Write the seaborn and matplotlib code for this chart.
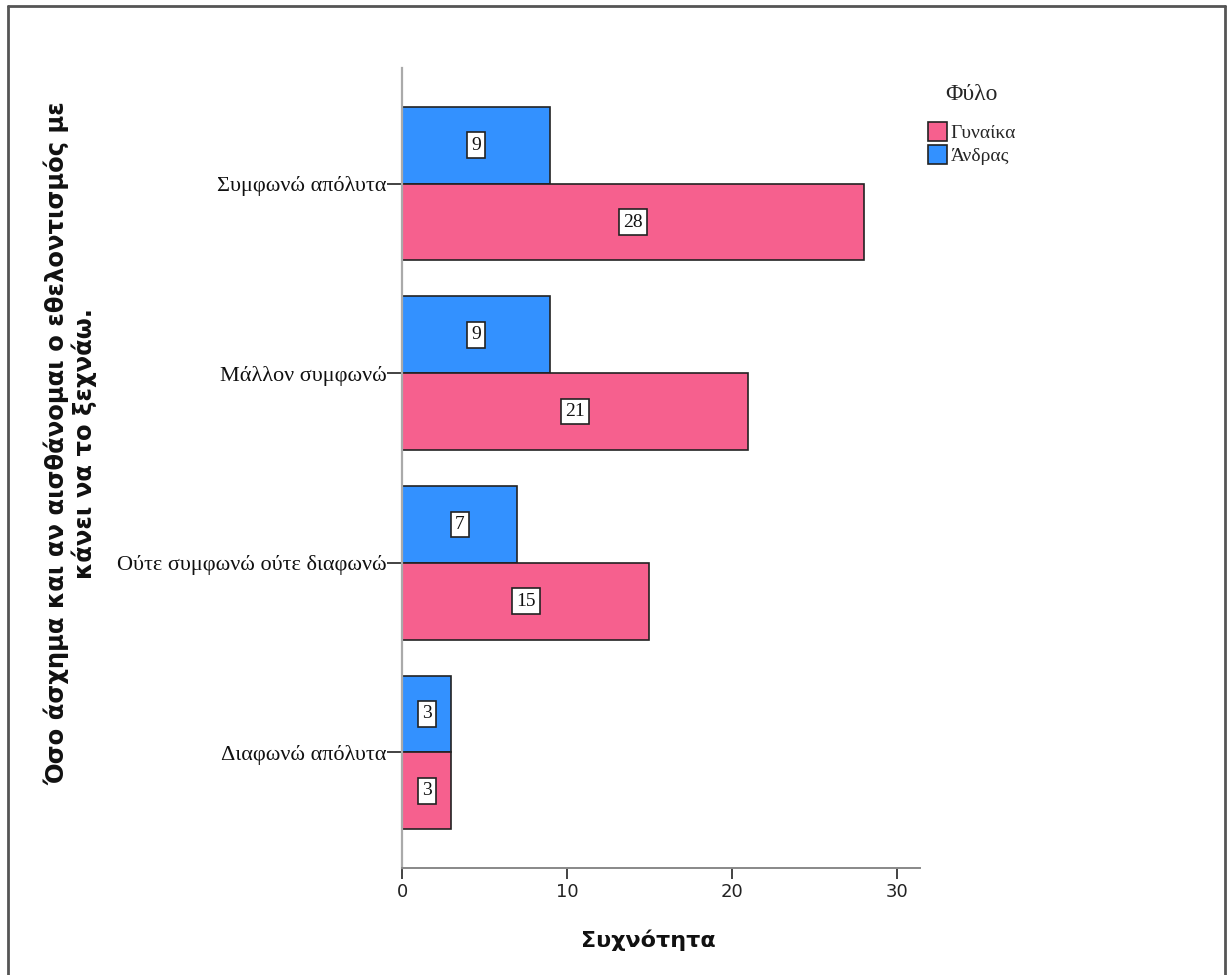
import matplotlib
matplotlib.use('Agg')
import matplotlib.pyplot as plt
import seaborn as sns
import pandas as pd
from matplotlib.patches import Patch
from matplotlib.lines import Line2D

categories = ['Συμφωνώ απόλυτα', 'Μάλλον συμφωνώ', 'Ούτε συμφωνώ ούτε διαφωνώ', 'Διαφωνώ απόλυτα']
men = [9, 9, 7, 3]
women = [28, 21, 15, 3]
groups = ['Άνδρας', 'Γυναίκα']
legend_order = ['Γυναίκα', 'Άνδρας']
x_ticks = [0, 10, 20, 30]
colors = {'Άνδρας': '#3391FF', 'Γυναίκα': '#F6608E'}
y_title = 'Όσο άσχημα και αν αισθάνομαι ο εθελοντισμός με\nκάνει να το ξεχνάω.'
x_title = 'Συχνότητα'
legend_title = 'Φύλο'

df = pd.DataFrame({
    'cat': categories * 2,
    'Φύλο': [groups[0]] * len(categories) + [groups[1]] * len(categories),
    'count': men + women,
})

sns.set_style('white')
plt.rcParams['font.family'] = ['DejaVu Sans']
serif = ['Liberation Serif', 'DejaVu Serif']

fig = plt.figure(figsize=(12.3, 9.75), dpi=100)
ax = fig.add_axes([402 / 1230, 1 - 868 / 975, (920 - 402) / 1230, (868 - 68) / 975])

sns.barplot(data=df, y='cat', x='count', hue='Φύλο', hue_order=groups, order=categories,
            palette=colors, saturation=1, width=0.81, edgecolor='#222222', linewidth=1.2,
            ax=ax, legend=False, orient='h', errorbar=None)

for cont in ax.containers:
    ax.bar_label(cont, label_type='center', fontsize=14, family=serif, color='#111111',
                 bbox=dict(boxstyle='square,pad=0.22', fc='white', ec='#222222', lw=1.2))

ax.set_xlim(0, 31.4)
ax.set_ylim(3.61, -0.61)
ax.set_xticks(x_ticks)
ax.set_xticklabels([str(t) for t in x_ticks], fontsize=13, color='#222222')
ax.set_yticks(range(len(categories)))
ax.set_yticklabels(categories, fontsize=16, family=serif, color='#111111')
ax.tick_params(axis='x', direction='out', length=8, width=1.2, color='#222222', pad=3, bottom=True)
ax.tick_params(axis='y', direction='out', length=11, width=1.2, color='#222222', pad=0, left=True)
ax.set_xlabel('')
ax.set_ylabel('')
for s in ['top', 'right']:
    ax.spines[s].set_visible(False)
ax.spines['left'].set_color('#AAAAAA')
ax.spines['left'].set_linewidth(1.6)
ax.spines['bottom'].set_color('#888888')
ax.spines['bottom'].set_linewidth(1.4)

fig.text(648 / 1230, 1 - 940 / 975, x_title, fontsize=16, fontweight='bold',
         ha='center', va='center', color='#111111')
fig.text(70 / 1230, 1 - 443 / 975, y_title, fontsize=17.5, fontweight='bold', rotation=90,
         ha='center', va='center', multialignment='center', color='#111111', linespacing=1.1)

handles = [Patch(facecolor=colors[g], edgecolor='#222222', lw=1.2) for g in legend_order]
leg = fig.legend(handles, legend_order, title=legend_title, loc='upper left',
                 bbox_to_anchor=(910 / 1230, 1 - 67 / 975), frameon=False,
                 prop={'family': serif, 'size': 14}, handlelength=1.0, handleheight=1.1,
                 handletextpad=0.2, labelspacing=0.15)
leg.get_title().set_fontfamily(serif)
leg.get_title().set_fontsize(17)
leg._legend_box.sep = 12

# outer frame
for xs, ys in [([8 / 1230, 8 / 1230], [0, 1 - 6 / 975]),
               ([8 / 1230, 1225 / 1230], [1 - 6 / 975, 1 - 6 / 975]),
               ([1225 / 1230, 1225 / 1230], [0, 1 - 6 / 975])]:
    fig.add_artist(Line2D(xs, ys, transform=fig.transFigure, color='#555555', lw=2))

fig.savefig('out.png', dpi=100)
